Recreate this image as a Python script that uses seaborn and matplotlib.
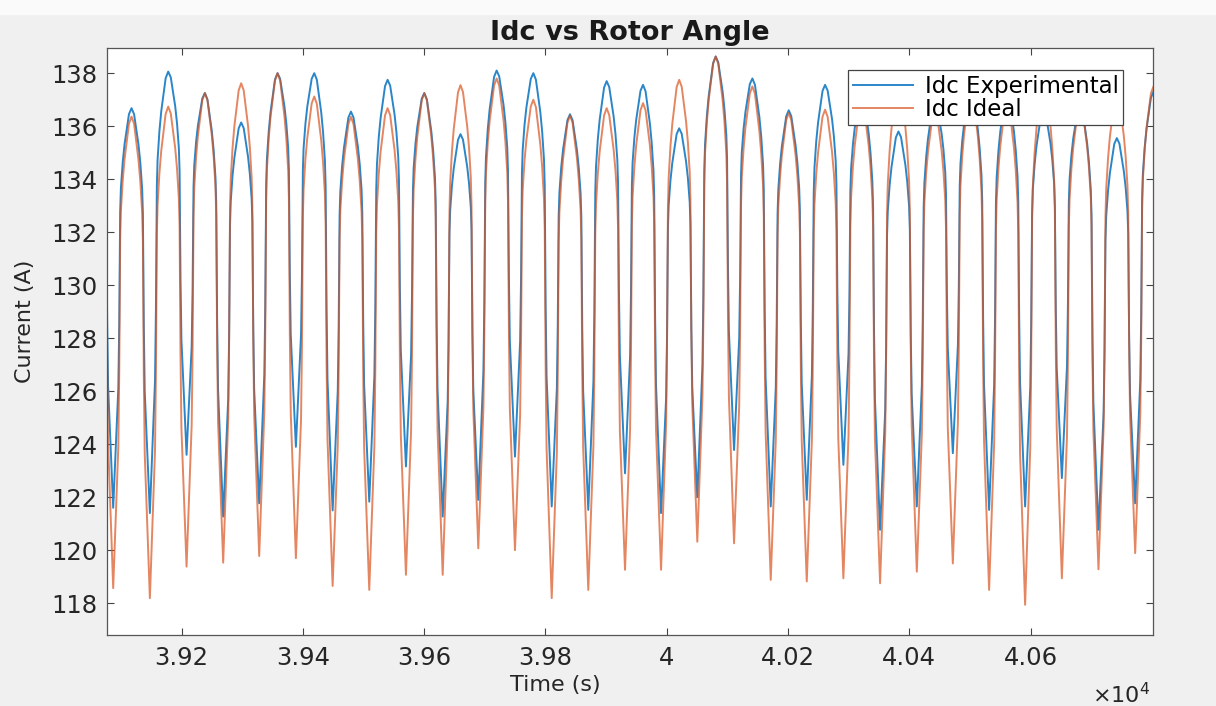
import numpy as np
import pandas as pd
import matplotlib
matplotlib.use('Agg')
import matplotlib.pyplot as plt
import seaborn as sns
from matplotlib.ticker import FixedLocator, FuncFormatter
from matplotlib.patches import Rectangle

# values (time in s, current in A)
# troughs of the ripple, one extra trough outside each edge of the view
trough_t = [39027.0, 39087.2, 39147.7, 39208.2, 39268.6, 39328.0, 39388.5, 39449.1,
            39509.5, 39570.0, 39630.6, 39689.3, 39749.8, 39810.4, 39870.7, 39931.3,
            39990.7, 40050.5, 40111.1, 40171.6, 40231.0, 40291.4, 40351.9, 40412.5,
            40471.9, 40531.7, 40591.1, 40651.7, 40712.1, 40772.6, 40833.0]

ideal_trough = [119.0, 118.57, 118.19, 119.38, 119.53, 119.78, 119.70, 118.65,
                118.50, 119.07, 119.07, 120.07, 120.00, 118.19, 118.50, 119.26,
                119.26, 120.32, 120.26, 118.88, 118.82, 118.94, 118.75, 119.19,
                119.50, 118.50, 117.94, 118.94, 119.28, 119.89, 119.0]
exp_trough = [121.5, 121.60, 121.40, 123.60, 121.27, 121.77, 123.90, 121.50,
              121.83, 123.16, 121.27, 121.90, 123.53, 121.65, 121.52, 122.90,
              121.40, 122.00, 123.78, 121.65, 121.90, 123.22, 120.77, 121.65,
              123.66, 121.52, 121.65, 122.72, 120.77, 121.77, 121.5]

# peaks between consecutive troughs
ideal_peak = [137.0, 136.36, 136.74, 137.25, 137.62, 138.00, 137.12, 136.35,
              136.68, 137.25, 137.55, 137.80, 137.00, 136.40, 136.68, 136.87,
              137.75, 138.63, 137.50, 136.50, 136.62, 136.90, 137.60, 136.60,
              137.30, 136.90, 137.70, 136.80, 137.20, 137.50]
exp_peak = [137.0, 136.68, 138.06, 137.25, 136.14, 138.00, 138.00, 136.55,
            137.75, 137.25, 135.70, 138.10, 138.00, 136.45, 137.70, 137.56,
            135.92, 138.63, 137.80, 136.60, 137.56, 137.20, 135.80, 136.90,
            137.30, 137.20, 136.60, 136.80, 135.55, 137.30]

# shape of one rising edge (trough -> peak): share of the cycle, share of the swing
rise_phase = [0.0, 0.06, 0.14, 0.165, 0.19, 0.21, 0.26, 0.31, 0.37, 0.43, 0.5]
rise_level = [0.0, 0.13, 0.30, 0.46, 0.74, 0.80, 0.865, 0.91, 0.948, 0.985, 1.0]


def build(troughs, peaks, name):
    tt, vv = [], []
    for k in range(len(peaks)):
        t0, t1 = trough_t[k], trough_t[k + 1]
        p = peaks[k]
        for ph, lv in zip(rise_phase, rise_level):
            tt.append(t0 + ph * (t1 - t0))
            vv.append(troughs[k] + lv * (p - troughs[k]))
        for ph, lv in zip(rise_phase[-2::-1], rise_level[-2::-1]):
            tt.append(t1 - ph * (t1 - t0))
            vv.append(troughs[k + 1] + lv * (p - troughs[k + 1]))
    return pd.DataFrame({'time': tt, 'current': vv, 'series': name})


exp_df = build(exp_trough, exp_peak, 'Idc Experimental')
ideal_df = build(ideal_trough, ideal_peak, 'Idc Ideal')

plt.rcParams['font.family'] = ['DejaVu Sans']

fig = plt.figure(figsize=(12.16, 7.06), dpi=100, facecolor='#f0f0f0')
fig.add_artist(Rectangle((0, 1 - 14 / 706), 1, 14 / 706, transform=fig.transFigure,
                         color='#fafafa', zorder=0))
ax = fig.add_axes([107 / 1216, 1 - 635 / 706, 1046 / 1216, 587 / 706])
ax.set_facecolor('white')

sns.lineplot(data=exp_df, x='time', y='current', color='#2b86c9', lw=1.4,
             estimator=None, sort=False, ax=ax, label='Idc Experimental')
sns.lineplot(data=ideal_df, x='time', y='current', color='#d9531e', lw=1.4, alpha=0.7,
             estimator=None, sort=False, ax=ax, label='Idc Ideal')

ax.set_xlim(39077, 40802)
ax.set_ylim(116.8, 138.95)
ax.xaxis.set_major_locator(FixedLocator(np.arange(39200, 40601, 200)))
ax.xaxis.set_major_formatter(FuncFormatter(lambda x, pos: '%g' % round(x / 1e4, 4)))
ax.yaxis.set_major_locator(FixedLocator(np.arange(118, 139, 2)))

ax.tick_params(axis='both', direction='in', length=5, width=0.8, top=True, right=True,
               labelsize=17.5, labelcolor='#262626', color='#444444')
ax.tick_params(axis='x', pad=8)
ax.tick_params(axis='y', pad=7)
for s in ax.spines.values():
    s.set_color('#555555')
    s.set_linewidth(0.9)

ax.set_title('Idc vs Rotor Angle', fontsize=19.5, fontweight='bold', pad=5.5, color='#1a1a1a')
ax.set_xlabel('Time (s)', fontsize=16, color='#262626')
ax.set_ylabel('Current (A)', fontsize=16, color='#262626')
ax.xaxis.set_label_coords(0.429, -0.068)
ax.yaxis.set_label_coords(-0.069, 0.535)

fig.text(1150 / 1216, 3 / 706, r'$\times10^{4}$', ha='right', va='baseline',
         fontsize=16, color='#262626')

leg = ax.legend(loc='upper right', bbox_to_anchor=(0.9713, 0.9625), borderaxespad=0,
                fontsize=16.5, frameon=True, fancybox=False, edgecolor='#444444',
                framealpha=1, handlelength=2.6, handletextpad=0.52, borderpad=0.2,
                labelspacing=0.0)
leg.get_frame().set_linewidth(0.9)

fig.savefig('out.png', dpi=100, facecolor=fig.get_facecolor())
